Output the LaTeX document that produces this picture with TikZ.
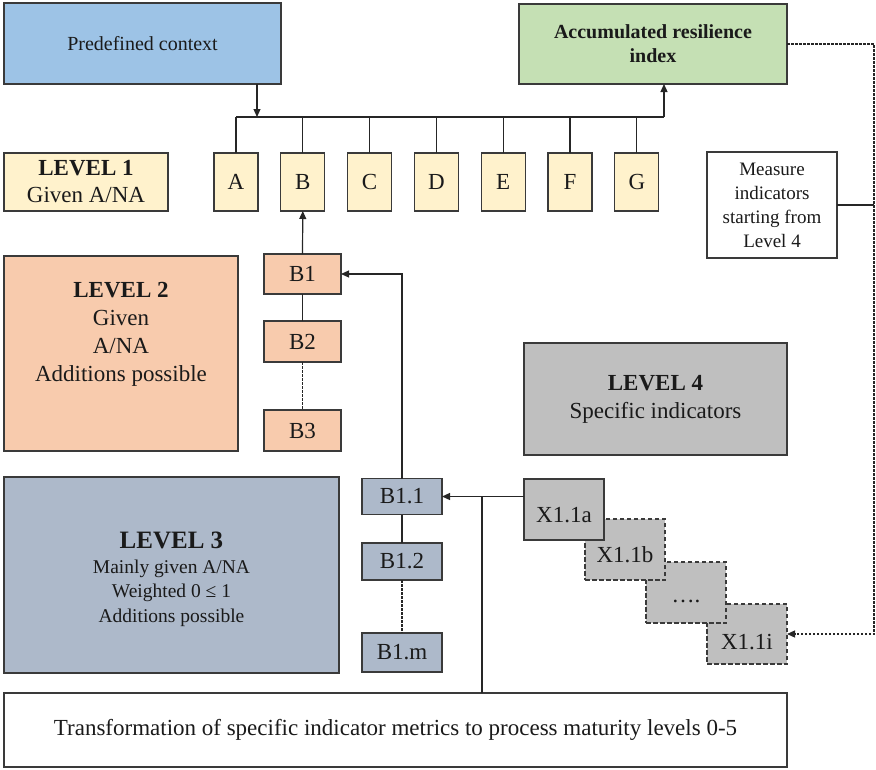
\documentclass[tikz,border=0pt]{standalone}
\usepackage{fontspec}
\setmainfont{Liberation Serif}
\usetikzlibrary{arrows.meta,calc}
\definecolor{cblue}{HTML}{9DC3E6}
\definecolor{cgreen}{HTML}{C5E0B4}
\definecolor{cyellow}{HTML}{FFF2CC}
\definecolor{corange}{HTML}{F8CBAD}
\definecolor{cslate}{HTML}{ADB9CA}
\definecolor{cgray}{HTML}{BFBFBF}
\definecolor{bordc}{HTML}{3A3A3A}
\definecolor{linec}{HTML}{262626}
\definecolor{txtc}{HTML}{1A1A1A}
\begin{document}
\begin{tikzpicture}[x=1pt,y=-1pt,
  box/.style={draw=bordc, line width=1.1pt, inner sep=0pt, outer sep=0pt, align=center, text=txtc},
  dbox/.style={box, dash pattern=on 4.5pt off 2.5pt},
  conn/.style={draw=linec, line width=1.2pt},
  arr/.style={conn, -{Triangle[length=8pt,width=7pt]}},
  dconn/.style={conn, dash pattern=on 2.5pt off 1.5pt},
  txt/.style={inner sep=0pt, align=center, text=txtc},
  fa/.style={font=\fontsize{19}{24}\selectfont},
  fd/.style={font=\fontsize{20}{24}\selectfont},
  fb/.style={font=\fontsize{23}{27}\selectfont},
  fc/.style={font=\fontsize{23}{28}\selectfont}
]
\useasboundingbox (0,0) rectangle (876,769);

% top boxes
\node[box, fill=cblue, minimum width=277pt, minimum height=81pt, fd] (ctx) at (142.5,43.5) {Predefined context};
\node[box, fill=cgreen, minimum width=268pt, minimum height=80pt, fd] (acc) at (653,44) {\textbf{Accumulated resilience}\\\textbf{index}};

% level 1
\node[box, fill=cyellow, minimum width=164pt, minimum height=58pt, fb] (lvl1) at (86,182) {\textbf{LEVEL 1}\\Given A/NA};
\foreach \l [count=\i from 0] in {A,B,C,D,E,F,G}{
  \node[box, fill=cyellow, minimum width=44pt, minimum height=58pt, fb] (\l) at ({236+66.8*\i},182) {\l};
}

% measure box
\node[box, fill=white, minimum width=130pt, minimum height=106pt, fa] (meas) at (772,205) {Measure\\indicators\\starting from\\Level 4};

% level 2
\node[box, fill=corange, minimum width=234pt, minimum height=195pt] (lvl2) at (121,353.5) {};
\node[txt, fc] (lvl2t) at (121,334) {\textbf{LEVEL 2}\\Given\\A/NA\\Additions possible};
\node[box, fill=corange, minimum width=77pt, minimum height=40pt, fb] (B1) at (302.5,274) {B1};
\node[box, fill=corange, minimum width=77pt, minimum height=41pt, fb] (B2) at (302.5,341.5) {B2};
\node[box, fill=corange, minimum width=77pt, minimum height=41pt, fb] (B3) at (302.5,430.5) {B3};

% level 4
\node[box, fill=cgray, minimum width=263pt, minimum height=112pt, fc] (lvl4) at (655.5,399) {\textbf{LEVEL 4}\\Specific indicators};

% level 3
\node[box, fill=cslate, minimum width=335pt, minimum height=196pt] (lvl3) at (171.5,575) {};
\node[txt, font=\fontsize{25}{30}\selectfont] (lvl3h) at (171.5,540) {\textbf{LEVEL 3}};
\node[txt, font=\fontsize{19.5}{24.5}\selectfont] (lvl3t) at (171.5,593) {Mainly given A/NA\\Weighted 0 ≤ 1\\Additions possible};
\node[box, fill=cslate, minimum width=80pt, minimum height=36pt, fb] (B11) at (402,496.5) {B1.1};
\node[box, fill=cslate, minimum width=80pt, minimum height=37pt, fb] (B12) at (402,561.5) {B1.2};
\node[box, fill=cslate, minimum width=80pt, minimum height=39pt, fb] (B1m) at (402,652.5) {B1.m};

% specific indicators (back to front)
\node[dbox, fill=cgray, minimum width=80pt, minimum height=60pt] (X1i) at (747,634) {};
\node[txt, fb] (X1it) at (747,642) {X1.1i};
\node[dbox, fill=cgray, minimum width=80pt, minimum height=61pt] (Xd) at (686,592.5) {};
\node[txt, fb] (Xdt) at (686,601) {\dots.};
\node[dbox, fill=cgray, minimum width=80pt, minimum height=61pt] (X1b) at (625,549.5) {};
\node[txt, fb] (X1bt) at (625,555) {X1.1b};
\node[box, fill=cgray, minimum width=80pt, minimum height=61pt] (X1a) at (564,509.5) {};
\node[txt, fb] (X1at) at (564,515) {X1.1a};

% bottom box
\node[box, fill=white, minimum width=783pt, minimum height=74pt, fb] (bot) at (395.5,730) {Transformation of specific indicator metrics to process maturity levels 0-5};

% coordinates
\coordinate (busL) at (236,117);
\coordinate (busR) at (664,117);
\coordinate (drop) at (257,117);
\coordinate (rail) at (874,0);
\coordinate (jn) at (482,497);

% connectors
\draw[arr] (ctx.south -| drop) -- (drop);
\draw[conn] (busL) -- (busR);
\draw[arr] (busR) -- (busR |- acc.south);
\foreach \l in {A,B,C,D,E,F,G}{
  \draw[conn] (\l.north) -- (\l.north |- busL);
}
\draw[arr] (B1.north) -- (B.south);
\draw[conn] (B1.south) -- (B2.north);
\draw[dconn] (B2.south) -- (B3.north);
\draw[arr] (B11.north) |- (B1.east);
\draw[conn] (B11.south) -- (B12.north);
\draw[dconn] (B12.south) -- (B1m.north);
\draw[arr] (B11.east -| X1a.west) -- (B11.east);
\draw[conn] (bot.north -| jn) -- (jn);
\draw[conn] (meas.east) -- (meas.east -| rail);
\draw[dconn, -{Triangle[length=8pt,width=7pt]}] (acc.east) -- (acc.east -| rail) -- (X1i.east -| rail) -- (X1i.east);
\end{tikzpicture}
\end{document}
